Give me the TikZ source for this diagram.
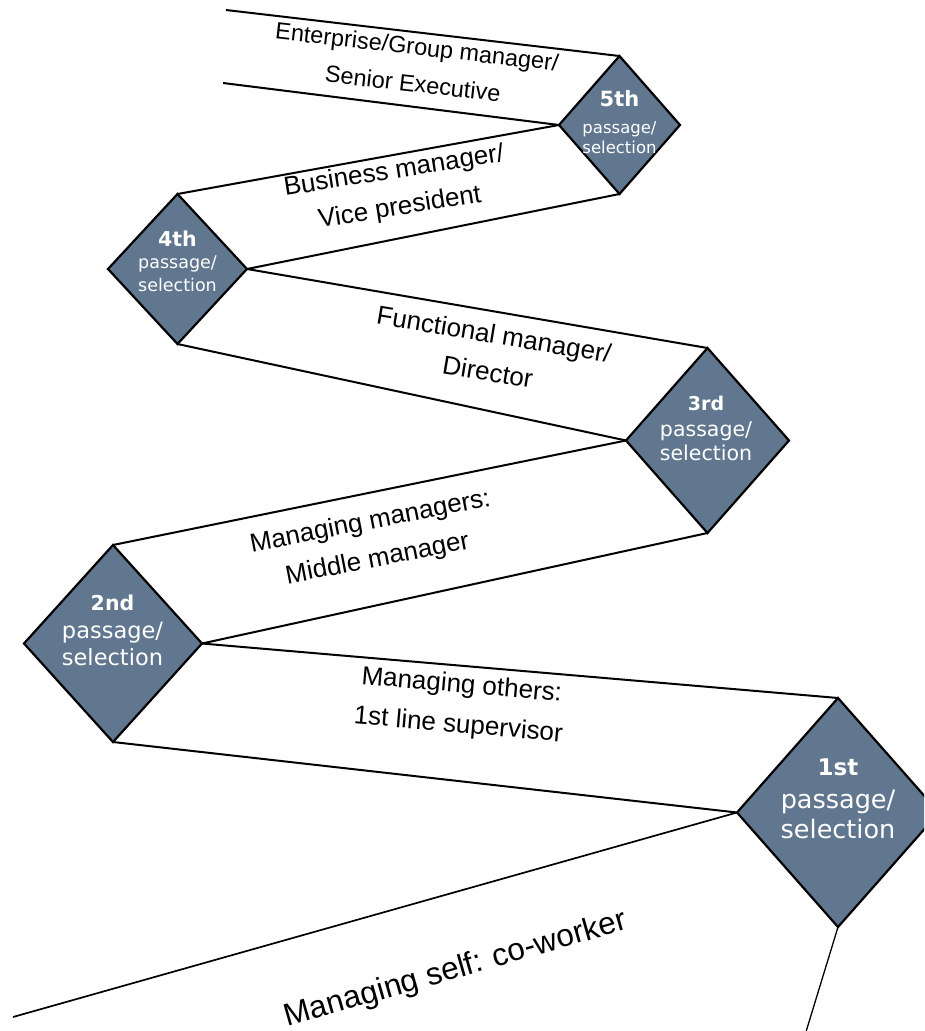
\documentclass[tikz,border=0pt]{standalone}
\usepackage{fontspec}
\setmainfont{Liberation Sans}
\newfontfamily\dvfont{DejaVu Sans}
\usetikzlibrary{shapes.geometric}
\definecolor{slate}{RGB}{97,119,143}
\begin{document}
\begin{tikzpicture}[x=1pt,y=-1pt,
  diam/.style={diamond, draw=black, line width=2.2pt, fill=slate, inner sep=0pt, outer sep=0pt},
  conn/.style={draw=black, line width=2pt},
  dtxt/.style={text=white, inner sep=0pt, anchor=base},
  lbl/.style={text=black, inner sep=0pt, align=center}]
\useasboundingbox (0,0) rectangle (924,1031);
\clip (0,0) rectangle (924,1031);
% diamonds
\node[diam, minimum width=121pt, minimum height=138pt] (d5) at (619.5,125) {};
\node[diam, minimum width=139pt, minimum height=150pt] (d4) at (177.5,269) {};
\node[diam, minimum width=163pt, minimum height=185pt] (d3) at (707.5,440.5) {};
\node[diam, minimum width=178pt, minimum height=197pt] (d2) at (113,643.5) {};
\node[diam, minimum width=202pt, minimum height=229pt] (d1) at (838,812.5) {};
% free ends
\coordinate (e1) at (226,10);
\coordinate (e2) at (223,83);
\coordinate (e3) at (13,1017);
\coordinate (e4) at (805,1035);
% connectors
\draw[conn] (e1) -- (d5.north);
\draw[conn] (e2) -- (d5.west);
\draw[conn] (d5.west) -- (d4.north);
\draw[conn] (d5.south) -- (d4.east);
\draw[conn] (d4.east) -- (d3.north);
\draw[conn] (d4.south) -- (d3.west);
\draw[conn] (d3.west) -- (d2.north);
\draw[conn] (d3.south) -- (d2.east);
\draw[conn] (d2.east) -- (d1.north);
\draw[conn] (d2.south) -- (d1.west);
\draw[conn, line width=1.7pt] (d1.west) -- (e3);
\draw[conn, line width=1.3pt] (d1.south) -- (e4);
% diamond texts
\node[dtxt, font=\dvfont\bfseries\fontsize{21}{21}\selectfont] (t5a) at (619.5,106.7) {5th};
\node[dtxt, font=\dvfont\fontsize{16.5}{16.5}\selectfont] (t5b) at (619.5,133.3) {passage/};
\node[dtxt, font=\dvfont\fontsize{16.5}{16.5}\selectfont] (t5c) at (619.5,153.3) {selection};
\node[dtxt, font=\dvfont\bfseries\fontsize{20.5}{20.5}\selectfont] (t4a) at (177.5,246.7) {4th};
\node[dtxt, font=\dvfont\fontsize{17.5}{17.5}\selectfont] (t4b) at (177.5,268.3) {passage/};
\node[dtxt, font=\dvfont\fontsize{17.5}{17.5}\selectfont] (t4c) at (177.5,291) {selection};
\node[dtxt, font=\dvfont\bfseries\fontsize{19}{19}\selectfont] (t3a) at (706,410.7) {3rd};
\node[dtxt, font=\dvfont\fontsize{20.5}{20.5}\selectfont] (t3b) at (706,436.7) {passage/};
\node[dtxt, font=\dvfont\fontsize{20.5}{20.5}\selectfont] (t3c) at (706,460.7) {selection};
\node[dtxt, font=\dvfont\bfseries\fontsize{20.5}{20.5}\selectfont] (t2a) at (112.5,610.7) {2nd};
\node[dtxt, font=\dvfont\fontsize{22.5}{22.5}\selectfont] (t2b) at (112.5,638.3) {passage/};
\node[dtxt, font=\dvfont\fontsize{22.5}{22.5}\selectfont] (t2c) at (112.5,665) {selection};
\node[dtxt, font=\dvfont\bfseries\fontsize{23}{23}\selectfont] (t1a) at (838,775) {1st};
\node[dtxt, font=\dvfont\fontsize{25.5}{25.5}\selectfont] (t1b) at (838,808.3) {passage/};
\node[dtxt, font=\dvfont\fontsize{25.5}{25.5}\selectfont] (t1c) at (838,838.3) {selection};
% labels
\node[lbl, rotate=-6.5, font=\fontsize{23.5}{37}\selectfont] (l5) at (415,65) {Enterprise/Group manager/\\Senior Executive};
\node[lbl, rotate=9, font=\fontsize{26}{37}\selectfont] (l4) at (397,190) {Business manager/\\Vice president};
\node[lbl, rotate=-9.5, font=\fontsize{26}{38}\selectfont] (l3) at (491,353) {Functional manager/\\Director};
\node[lbl, rotate=11, font=\fontsize{26}{38}\selectfont] (l2) at (374,541) {Managing managers:\\Middle manager};
\node[lbl, rotate=-5, font=\fontsize{26}{40}\selectfont] (l1) at (460,706) {Managing others:\\1st line supervisor};
\node[lbl, rotate=16, font=\fontsize{31.5}{38}\selectfont] (l0) at (456,970) {Managing self: co-worker};
\end{tikzpicture}
\end{document}
